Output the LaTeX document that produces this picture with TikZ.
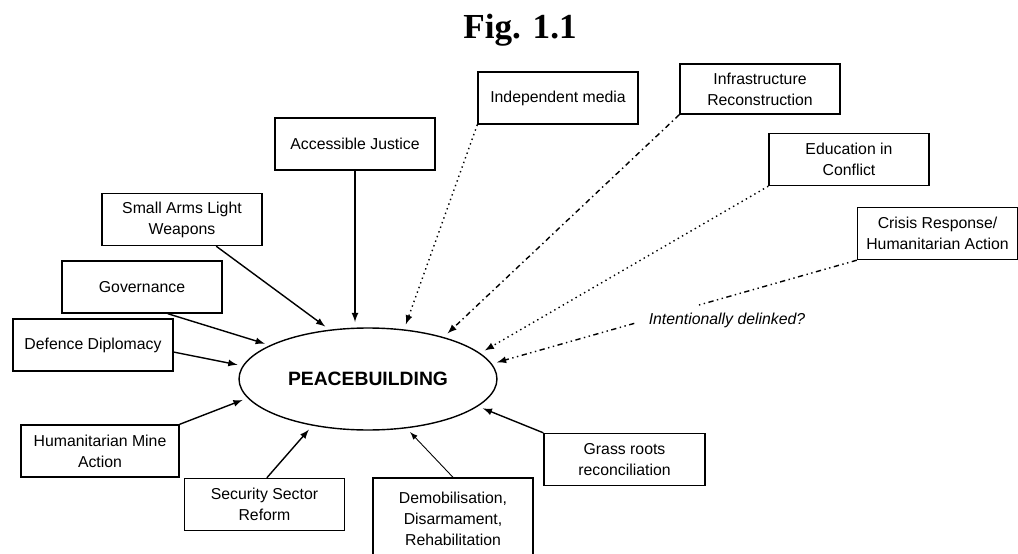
\documentclass[tikz,border=0pt]{standalone}
\usepackage{fontspec}
\setmainfont{Liberation Serif}
\setsansfont{Liberation Sans}
\usetikzlibrary{shapes.geometric}

\begin{document}
\begin{tikzpicture}[x=0.02cm,y=-0.02cm,
    box/.style={draw,line width=0.8pt,align=center,inner sep=0pt,
      minimum width=3.2cm,minimum height=1.04cm,
      font=\sffamily\fontsize{9}{12}\selectfont},
    link/.style={line width=0.8pt,-latex,shorten >=3pt}]

    \useasboundingbox (0,0) rectangle (1018,554);
    \clip (0,0) rectangle (1018,554);

    \node[anchor=base,font=\bfseries\fontsize{20}{24}\selectfont] (title) at (520,39) {Fig. 1.1};

    \node[draw,ellipse,line width=0.8pt,minimum width=5.16cm,minimum height=2.04cm,inner sep=0pt,
      font=\sffamily\bfseries\fontsize{11}{13}\selectfont] (peace) at (368,379) {PEACEBUILDING};

    % boxes round the ellipse
    \node[box] (justice) at (355,144) {Accessible Justice};
    \node[box] (media) at (558,98) {Independent media};
    \node[box,minimum height=1cm] (infra) at (760,89) {Infrastructure\\Reconstruction};
    \node[box] (educ) at (849,159.5) {Education in\\Conflict};
    \node[box] (crisis) at (937.5,233.5) {Crisis Response/\\Humanitarian Action};
    \node[box] (arms) at (182,219.5) {Small Arms Light\\Weapons};
    \node[box] (gov) at (142,287) {Governance};
    \node[box] (defence) at (93,345) {Defence Diplomacy};
    \node[box,minimum width=3.16cm] (mine) at (100,451) {Humanitarian Mine\\Action};
    \node[box] (security) at (264.5,504.5) {Security Sector\\Reform};
    \node[box,minimum height=1.64cm] (demob) at (453,519) {Demobilisation,\\Disarmament,\\Rehabilitation};
    \node[box,minimum width=3.22cm] (grass) at (624.5,459.5) {Grass roots\\reconciliation};

    \node[font=\sffamily\itshape\fontsize{9}{11}\selectfont] (delink) at (727,320) {Intentionally delinked?};

    % solid links
    \draw[link] (justice.south) -- (justice.south |- peace.north);
    \draw[link] (arms.-38) -- (peace.128.5);
    \draw[link] (gov.-46) -- (peace.161.7);
    \draw[link] (defence.-5) -- (peace.174.7);
    \draw[link] (mine.north east) -- (peace.189.8);
    \draw[link] (security.85) -- (peace.220.2);
    \draw[link,line width=0.5pt] (demob.north) -- (peace.308.8);
    \draw[link] (grass.north west) -- (peace.346.3);

    % loose links
    \draw[link,dotted] (media.south west) -- (peace.54.5);
    \draw[link,dash dot] (infra.south west) -- (peace.29.3);
    \draw[link,dotted] (educ.south west) -- (peace.13);
    \path (crisis.south west) -- (peace.7.5) coordinate[pos=0.44] (gapa) coordinate[pos=0.61] (gapb);
    \draw[line width=0.8pt,dash dot dot] (crisis.south west) -- (gapa);
    \draw[link,dash dot dot] (gapb) -- (peace.7.5);

\end{tikzpicture}
\end{document}
